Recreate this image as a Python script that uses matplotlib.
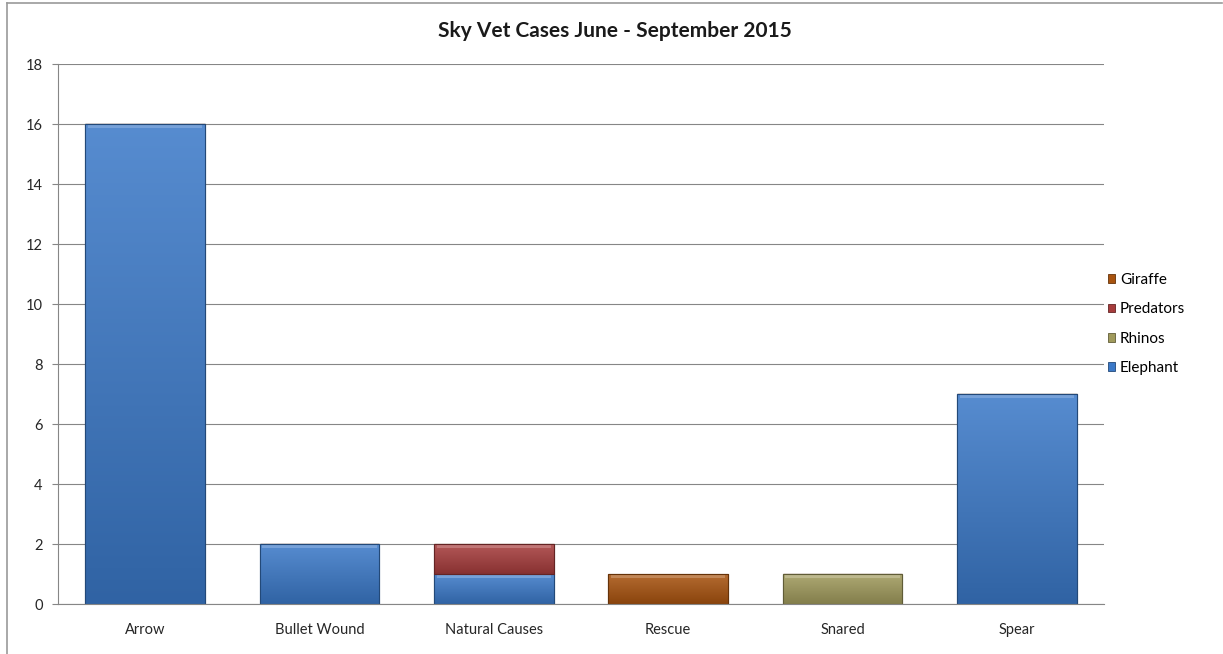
import numpy as np
import matplotlib
matplotlib.use("Agg")
import matplotlib.pyplot as plt
from matplotlib.colors import to_rgb
from matplotlib.lines import Line2D

plt.rcParams['font.family'] = ['Lato', 'DejaVu Sans']

categories = ["Arrow", "Bullet Wound", "Natural Causes", "Rescue", "Snared", "Spear"]
elephant = [16, 2, 1, 0, 0, 7]
rhinos = [0, 0, 0, 0, 1, 0]
predators = [0, 0, 1, 0, 0, 0]
giraffe = [0, 0, 0, 1, 0, 0]
series_names = ["Elephant", "Rhinos", "Predators", "Giraffe"]
series_values = [elephant, rhinos, predators, giraffe]
series_colors = ["#3b79c8", "#a09a5c", "#a63c3c", "#a8530f"]
yticks = [0, 2, 4, 6, 8, 10, 12, 14, 16, 18]

fig = plt.figure(figsize=(12.23, 6.54), dpi=100)
ax = fig.add_axes([58/1223, 1-604/654, (1104-58)/1223, (604-64)/654])

x = np.arange(len(categories))
width = 0.685
bottom = np.zeros(len(categories))


def shade(c, f):
    r = np.array(to_rgb(c))
    if f >= 0:
        return tuple(r + (1 - r) * f)
    return tuple(r * (1 + f))


handles = []
for name, vals, col in zip(series_names, series_values, series_colors):
    vals = np.array(vals, dtype=float)
    bars = ax.bar(x, vals, width, bottom=bottom, color=col,
                  edgecolor=shade(col, -0.35), linewidth=0.8, zorder=2)
    for b, v in zip(bars, vals):
        if v <= 0:
            continue
        x0, y0 = b.get_x(), b.get_y()
        w, h = b.get_width(), b.get_height()
        n = 64
        t = np.linspace(0, 1, n)[:, None]
        top = np.array(shade(col, 0.14))
        bot = np.array(shade(col, -0.18))
        grad = (t * top + (1 - t) * bot)[:, None, :]
        grad = np.repeat(grad, 2, axis=1)
        im = ax.imshow(grad, extent=[x0, x0 + w, y0, y0 + h], origin='lower',
                       aspect='auto', zorder=2.1, interpolation='bilinear')
        im.set_clip_path(b)
        bh = min(0.12, h * 0.15)
        ax.fill_between([x0 + w * 0.02, x0 + w * 0.98], y0 + h - bh, y0 + h - 0.02,
                        color=shade(col, 0.3), zorder=2.2, linewidth=0)
        ax.add_patch(plt.Rectangle((x0, y0), w, h, fill=False,
                                   edgecolor=shade(col, -0.4), linewidth=0.8, zorder=2.3))
    bottom = bottom + vals
    handles.append((name, col))

ax.set_xlim(-0.5, len(categories) - 0.5)
ax.set_ylim(0, 18)
ax.set_yticks(yticks)
ax.set_xticks(x)
ax.set_xticklabels(categories, fontsize=10.5, color="#262626")
ax.tick_params(axis='y', labelsize=10.5, colors="#262626", length=4, width=0.8,
               color="#868686", pad=7)
ax.tick_params(axis='x', length=0, pad=14)
ax.grid(axis='y', color="#868686", linewidth=0.8, zorder=0)
ax.set_axisbelow(True)
for s in ['top', 'right']:
    ax.spines[s].set_visible(False)
ax.spines['left'].set_color("#868686")
ax.spines['bottom'].set_color("#868686")

fig.text(615/1223, 1-31/654, "Sky Vet Cases June - September 2015", ha='center',
         va='center', fontsize=15, fontweight='bold', color="#1a1a1a")

leg_handles = [plt.Rectangle((0, 0), 1, 1, facecolor=c, edgecolor=shade(c, -0.4), linewidth=0.6)
               for n, c in handles][::-1]
leg_labels = [n for n, c in handles][::-1]
fig.legend(leg_handles, leg_labels, loc='center left', bbox_to_anchor=(1094/1223, 1-324/654),
           frameon=False, fontsize=11, handlelength=0.5, handleheight=0.5,
           handletextpad=0.3, labelspacing=1.0)

fig.add_artist(Line2D([7/1223, 1222/1223], [1-3/654, 1-3/654], color="#9a9a9a", linewidth=1.2))
fig.add_artist(Line2D([7/1223, 7/1223], [0, 1-3/654], color="#9a9a9a", linewidth=1.2))

fig.savefig("out.png", dpi=100)
